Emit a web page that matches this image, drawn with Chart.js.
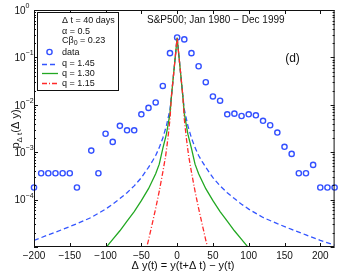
<!DOCTYPE html>
<html><head><meta charset="utf-8">
<script src="https://cdn.jsdelivr.net/npm/chart.js@4/dist/chart.umd.min.js"></script>
<style>html,body{margin:0;padding:0;background:#fff}#wrap{width:340px;height:273px}</style>
</head><body><div id="wrap"><canvas id="c" width="340" height="273"></canvas></div>
<script>
// ---- data ----
const dataX = [-200,-190,-180,-170,-160,-150,-140,-120,-110,-100,-90,-80,-70,-60,-50,-40,-30,-20,-10,0,10,20,30,40,50,60,70,80,90,100,110,120,130,140,150,160,170,180,190,200,210,220];
const dataY = [1.8e-4,3.6e-4,3.6e-4,3.6e-4,3.6e-4,3.6e-4,1.8e-4,1.08e-3,3.6e-4,2.45e-3,1.65e-3,3.6e-3,2.9e-3,2.9e-3,6.3e-3,8.6e-3,1.12e-2,2.5e-2,0.123,0.263,0.24,0.123,0.065,0.03,0.015,0.0122,6.3e-3,6.5e-3,5.8e-3,6.3e-3,6.0e-3,4.6e-3,3.7e-3,2.6e-3,1.3e-3,9.2e-4,3.6e-4,3.6e-4,5.4e-4,1.8e-4,1.8e-4,1.8e-4];

const q145X = [-200,-180,-160,-140,-120,-100,-90,-80,-70,-60,-50,-40,-35,-30,-25,-20,-15,-10,-8,0,8,10,15,20,25,30,35,40,50,60,70,80,90,100,120,140,160,180,200,220];
const q145Y = [1.38e-5,1.8e-5,2.35e-5,3.1e-5,4.2e-5,6.3e-5,8.0e-5,1.05e-4,1.4e-4,1.95e-4,2.9e-4,4.8e-4,6.3e-4,8.5e-4,1.25e-3,2.0e-3,3.6e-3,8e-3,0.015,0.26,0.015,8e-3,3.6e-3,2.0e-3,1.25e-3,8.5e-4,6.3e-4,4.8e-4,2.9e-4,1.95e-4,1.4e-4,1.05e-4,8.0e-5,6.3e-5,4.2e-5,3.1e-5,2.35e-5,1.8e-5,1.38e-5,1.1e-5];

const q130X = [-110,-100,-90,-80,-70,-60,-50,-40,-30,-25,-20,-15,-10,-8,0,8,10,15,20,25,30,40,50,60,70,80,90,100,110];
const q130Y = [6.5e-6,9.5e-6,1.45e-5,2.2e-5,3.5e-5,5.6e-5,9.5e-5,1.7e-4,3.5e-4,5.6e-4,1.2e-3,2.4e-3,6.5e-3,0.015,0.26,0.015,6.5e-3,2.4e-3,1.2e-3,5.6e-4,3.5e-4,1.7e-4,9.5e-5,5.6e-5,3.5e-5,2.2e-5,1.45e-5,9.5e-6,6.5e-6];

const q115X = [-50,-45,-40,-35,-30,-25,-20,-16,-13,-10,-8,0,8,10,13,16,20,25,30,35,40,45,50];
const q115Y = [4.5e-6,7e-6,1.4e-5,3e-5,6.5e-5,1.5e-4,3.8e-4,8.5e-4,1.9e-3,5e-3,0.015,0.26,0.015,5e-3,1.9e-3,8.5e-4,3.8e-4,1.5e-4,6.5e-5,3e-5,1.4e-5,7e-6,4.5e-6];

const seriesNames = ['data','q = 1.45','q = 1.30','q = 1.15'];
const xTicks = [-200,-150,-100,-50,0,50,100,150,200];
const yTickExp = [0,-1,-2,-3,-4];
const infoLines = ['\u0394 t = 40 days','\u03b1 = 0.5'];
const plotTitle = 'S&P500; Jan 1980 \u2212 Dec 1999';
const panelLabel = '(d)';
const xTitle = '\u0394 y(t) = y(t+\u0394 t) \u2212 y(t)';

// ---- styles ----
const FONT = '"Liberation Sans", Arial, Helvetica, sans-serif';
const C_DATA = '#3350ff', C_Q145 = '#3355ff', C_Q130 = '#22a822', C_Q115 = '#ff2a2a';
const DASH_Q145 = [5,3], DASH_Q115 = [5,2,1,2];

const pts = (xs, ys) => xs.map((x,i)=>({x, y: ys[i]}));

const decor = {
  id: 'decor',
  afterDatasetsDraw(chart){
    const {ctx, chartArea:a, scales:{x, y}} = chart;
    ctx.save();
    ctx.strokeStyle = '#111'; ctx.lineWidth = 1; ctx.setLineDash([]);
    ctx.beginPath();
    xTicks.forEach(v=>{
      const px = Math.round(x.getPixelForValue(v)) + 0.5;
      ctx.moveTo(px, a.bottom); ctx.lineTo(px, a.bottom-4);
      ctx.moveTo(px, a.top); ctx.lineTo(px, a.top+4);
    });
    for (let e=-5; e<=0; e++){
      for (let m=1; m<10; m++){
        const v = m*Math.pow(10,e); if (v>1) break;
        const py = Math.round(y.getPixelForValue(v)) + 0.5;
        const L = m===1 ? 4 : 2;
        ctx.moveTo(a.left, py); ctx.lineTo(a.left+L, py);
        ctx.moveTo(a.right, py); ctx.lineTo(a.right-L, py);
      }
    }
    ctx.stroke();
    ctx.strokeRect(a.left+0.5, a.top+0.5, a.right-a.left-1, a.bottom-a.top-1);

    ctx.fillStyle = '#111';
    // y tick labels 10^k
    yTickExp.forEach(e=>{
      const py = y.getPixelForValue(Math.pow(10,e));
      ctx.font = '10px ' + FONT; ctx.textAlign='left'; ctx.textBaseline='middle';
      ctx.fillText('10', 14.5, py+1);
      const w = ctx.measureText('10').width;
      ctx.font = '7px ' + FONT;
      ctx.fillText(e===0 ? '0' : '\u2212' + Math.abs(e), 14.5 + w, py-4);
    });

    // y axis title p_{Δt}(Δ y), rotated
    ctx.save();
    ctx.translate(19, 129);
    ctx.rotate(-Math.PI/2);
    ctx.textBaseline = 'alphabetic';
    const partA = 'p', partB = '\u0394 t', partC = '(\u0394 y)';
    ctx.font = '11px ' + FONT; const wA = ctx.measureText(partA).width, wC = ctx.measureText(partC).width;
    ctx.font = '8px ' + FONT; const wB = ctx.measureText(partB).width;
    let sx = -(wA+wB+wC)/2;
    ctx.font = '11px ' + FONT; ctx.textAlign='left'; ctx.fillText(partA, sx, 0); sx += wA;
    ctx.font = '8px ' + FONT; ctx.fillText(partB, sx, 3); sx += wB;
    ctx.font = '11px ' + FONT; ctx.fillText(partC, sx, 0);
    ctx.restore();

    // x axis title
    ctx.font = '11px ' + FONT; ctx.textAlign='center'; ctx.textBaseline='middle';
    ctx.fillText(xTitle, 183, 266);

    // plot title and panel label
    ctx.font = '10px ' + FONT; ctx.textAlign='left';
    ctx.fillText(plotTitle, 147, 20.5);
    ctx.font = '12px ' + FONT; ctx.textAlign='center';
    ctx.fillText(panelLabel, 292.5, 59);

    // legend box
    const bx=37.5, by=12.5, bw=81, bh=78;
    ctx.fillStyle='#fff'; ctx.fillRect(bx, by, bw, bh);
    ctx.strokeStyle='#111'; ctx.lineWidth=1; ctx.strokeRect(bx, by, bw, bh);
    ctx.fillStyle='#111'; ctx.font='9px ' + FONT; ctx.textAlign='left'; ctx.textBaseline='middle';
    const tx = 62;
    ctx.fillText(infoLines[0], tx, 20.5);
    ctx.fillText(infoLines[1], tx, 31.5);
    // Cβ0 = 0.23
    let cx = tx;
    ctx.fillText('C\u03b2', cx, 40.5); cx += ctx.measureText('C\u03b2').width;
    ctx.font='7px ' + FONT; ctx.fillText('0', cx, 43); cx += ctx.measureText('0').width;
    ctx.font='9px ' + FONT; ctx.fillText(' = 0.23', cx, 40.5);
    // series entries
    const rows = [53, 64, 74, 84];
    rows.forEach((ry,i)=>{ ctx.fillStyle='#111'; ctx.fillText(seriesNames[i], tx, ry); });
    // markers
    ctx.strokeStyle = C_DATA; ctx.lineWidth = 1.4;
    ctx.beginPath(); ctx.arc(49.5, 52, 2.6, 0, Math.PI*2); ctx.stroke();
    const sample = (yy, col, dash) => {
      ctx.strokeStyle = col; ctx.lineWidth = 1.3; ctx.setLineDash(dash);
      ctx.beginPath(); ctx.moveTo(42, yy); ctx.lineTo(58, yy); ctx.stroke();
    };
    sample(64.5, C_Q145, DASH_Q145);
    sample(73.5, C_Q130, []);
    sample(83.5, C_Q115, DASH_Q115);
    ctx.restore();
  }
};

new Chart(document.getElementById('c'), {
  type: 'scatter',
  data: {
    datasets: [
      { label: seriesNames[0], data: pts(dataX, dataY), showLine:false, pointStyle:'circle',
        pointRadius:2.6, pointBorderWidth:1.4, pointBackgroundColor:'rgba(0,0,0,0)', borderColor:C_DATA,
        pointBorderColor:C_DATA, order:4, clip:false },
      { label: seriesNames[1], data: pts(q145X, q145Y), showLine:true, pointRadius:0, borderColor:C_Q145,
        borderWidth:1.3, borderDash:DASH_Q145, tension:0, order:3, clip:0 },
      { label: seriesNames[2], data: pts(q130X, q130Y), showLine:true, pointRadius:0, borderColor:C_Q130,
        borderWidth:1.3, tension:0, order:2, clip:0 },
      { label: seriesNames[3], data: pts(q115X, q115Y), showLine:true, pointRadius:0, borderColor:C_Q115,
        borderWidth:1.3, borderDash:DASH_Q115, tension:0, order:1, clip:0 }
    ]
  },
  options: {
    responsive:false, animation:false, devicePixelRatio:1,
    layout:{ padding:{ top:10, right:5, left:0, bottom:0 } },
    plugins:{ legend:{display:false}, tooltip:{enabled:false} },
    scales:{
      x:{ type:'linear', min:-200, max:220,
          grid:{display:false, drawTicks:false}, border:{display:false},
          afterBuildTicks: s => { s.ticks = xTicks.map(v=>({value:v})); },
          afterFit: s => { s.height = 26; },
          ticks:{ padding:3, maxRotation:0, autoSkip:false, color:'#111',
                  font:{ family: FONT, size:10 },
                  callback: v => (v<0 ? '\u2212' + Math.abs(v) : String(v)) } },
      y:{ type:'logarithmic', min:1e-5, max:1,
          grid:{display:false, drawTicks:false}, border:{display:false},
          ticks:{ display:false },
          afterFit: s => { s.width = 34; } }
    }
  },
  plugins:[decor]
});
</script>
</body></html>
